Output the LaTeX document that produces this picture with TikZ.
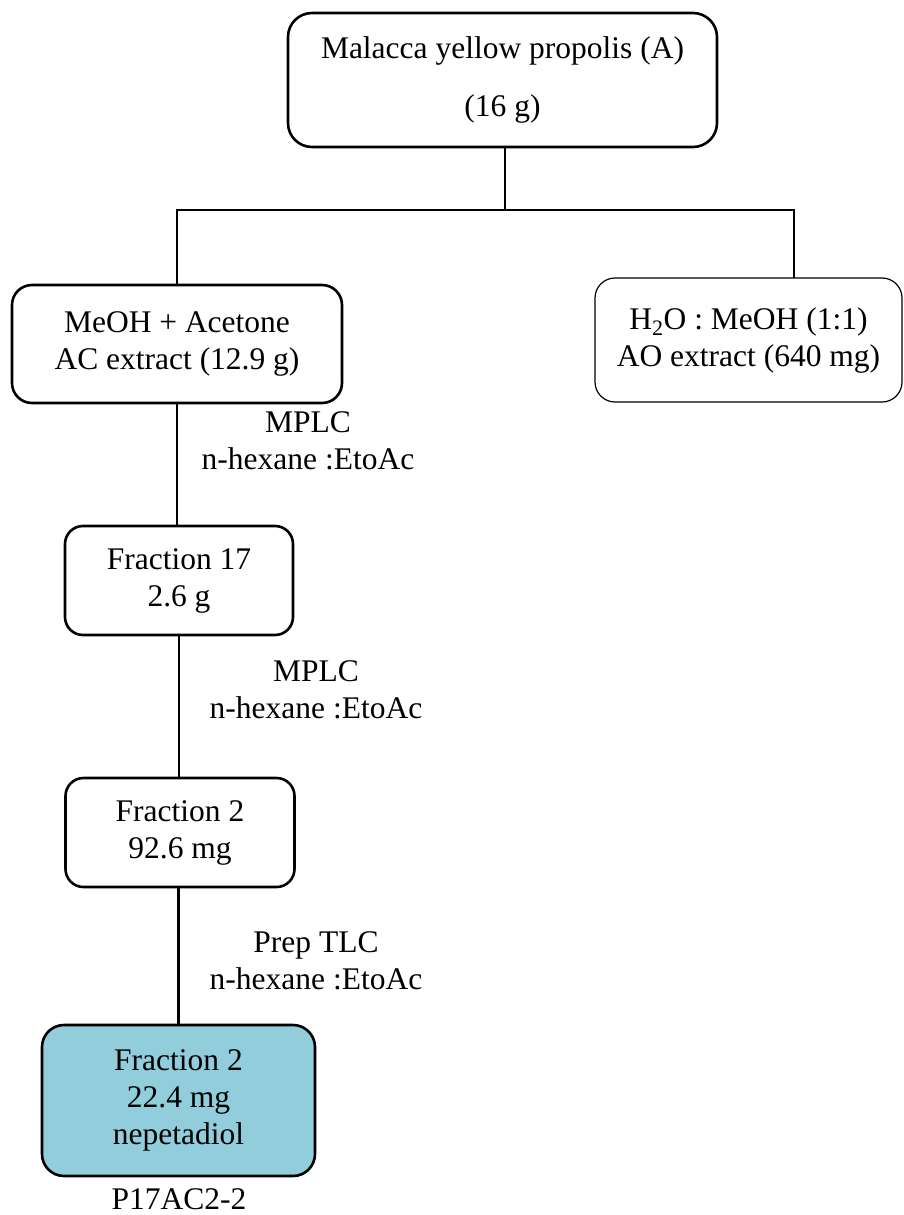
\documentclass[tikz,border=0pt]{standalone}
\usepackage{fontspec}
\setmainfont{Liberation Serif}
\definecolor{nepfill}{RGB}{146,205,220}
\begin{document}
\begin{tikzpicture}[x=1pt,y=-1pt,
  font=\fontsize{31.5}{37}\selectfont,
  stagebox/.style={draw=black, line width=2.6pt, fill=white, rounded corners=20pt,
    align=center, inner sep=0pt, outer sep=0pt},
  thinbox/.style={draw=black, line width=1.2pt, fill=white, rounded corners=20pt,
    align=center, inner sep=0pt, outer sep=0pt},
  conn/.style={draw=black, line width=2.2pt},
  stepnote/.style={align=center, inner sep=0pt}]
\useasboundingbox (0,0) rectangle (903,1215);

% boxes
\node[stagebox, rounded corners=24pt, minimum width=429pt, minimum height=134pt] (top) at (502.5,80)
  {Malacca yellow propolis (A)\\[21pt](16 g)};
\node[stagebox, minimum width=330pt, minimum height=118pt] (ac) at (177,344)
  {MeOH + Acetone\\AC extract (12.9 g)};
\node[thinbox, minimum width=307pt, minimum height=124pt] (ao) at (748.5,340)
  {H\textsubscript{2}O : MeOH (1:1)\\AO extract (640 mg)};
\node[stagebox, rounded corners=18pt, minimum width=228pt, minimum height=109pt] (f17) at (179,580.5)
  {Fraction 17\\2.6 g};
\node[stagebox, rounded corners=18pt, minimum width=229pt, minimum height=109pt] (f2) at (180,832.5)
  {Fraction 2\\92.6 mg};
\node[stagebox, rounded corners=22pt, fill=nepfill, minimum width=273pt, minimum height=151pt] (nep) at (178.5,1100.5)
  {Fraction 2\\22.4 mg\\nepetadiol};
\node[anchor=base, inner sep=0pt] (code) at (179,1209) {P17AC2-2};

% split below the starting material
\coordinate (split) at (505,210);

% connectors
\draw[conn] (top.south -| split) -- (split);
\draw[conn] (ac.north) |- (split);
\draw[conn] (split) -| ([xshift=45.5pt]ao.north);
\draw[conn] (ac.south) -- (ac.south |- f17.north);
\draw[conn] (f17.south) -- (f17.south |- f2.north);
\draw[conn] (f2.south -| nep.north) -- (nep.north);

% separation conditions
\node[stepnote] (s1) at (308,441) {MPLC\\n-hexane :EtoAc};
\node[stepnote] (s2) at (316,690) {MPLC\\n-hexane :EtoAc};
\node[stepnote] (s3) at (316,961) {Prep TLC\\n-hexane :EtoAc};
\end{tikzpicture}
\end{document}
